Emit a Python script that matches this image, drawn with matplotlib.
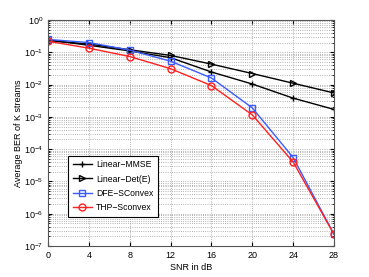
import numpy as np
import matplotlib.pyplot as plt
from matplotlib.ticker import LogLocator, NullFormatter

plt.rcParams['font.family'] = ['Liberation Sans', 'DejaVu Sans']
plt.rcParams['mathtext.fontset'] = 'custom'
plt.rcParams['mathtext.rm'] = 'Liberation Sans'

# Donnees
snr = [0, 4, 8, 12, 16, 20, 24, 28]
linear_mmse = [0.24, 0.165, 0.11, 0.068, 0.0245, 0.0104, 0.0038, 0.0017]
linear_det = [0.23, 0.18, 0.12, 0.08, 0.043, 0.022, 0.011, 0.0055]
dfe_sconvex = [0.25, 0.2, 0.117, 0.053, 0.016, 0.0019, 5.5e-5, 2.3e-7]
thp_sconvex = [0.22, 0.134, 0.074, 0.031, 0.0093, 0.00115, 4e-5, 2.3e-7]

fig = plt.figure(figsize=(3.69, 2.77), dpi=100)
ax = fig.add_axes([48/369, 31/277, 286/369, 226/277])

ax.semilogy(snr, linear_mmse, 'k-+', lw=1, ms=5, label='Linear\u2212MMSE')
ax.semilogy(snr, linear_det, 'k->', lw=1, ms=5, mfc='none', label='Linear\u2212Det(E)')
ax.semilogy(snr, dfe_sconvex, '-s', color='#3a5cff', lw=1, ms=4, mfc='none', label='DFE\u2212SConvex')
ax.semilogy(snr, thp_sconvex, '-o', color='#ff2020', lw=1, ms=5, mfc='none', label='THP\u2212Sconvex')

ax.set_xlim(0, 28)
ax.set_ylim(1e-7, 1)
ax.set_xticks(snr)
ax.yaxis.set_major_locator(LogLocator(base=10, numticks=10))
ax.yaxis.set_minor_locator(LogLocator(base=10, subs=np.arange(2, 10), numticks=10))
ax.yaxis.set_minor_formatter(NullFormatter())
ax.grid(True, which='major', ls=':', color='#999999', lw=0.6)
ax.grid(True, which='minor', axis='y', ls=':', color='#999999', lw=0.6)
ax.tick_params(which='both', direction='in', top=True, right=True, labelsize=6.5, length=3)
ax.tick_params(which='minor', length=1.5)
for s in ax.spines.values():
    s.set_color('#555555')
    s.set_linewidth(0.8)

ax.set_xlabel('SNR in dB', fontsize=6.5, labelpad=2)
ax.set_ylabel('Average BER of K streams', fontsize=6.5, labelpad=1)

leg = ax.legend(loc='upper left', bbox_to_anchor=(0.07, 0.40), fontsize=6.2,
                fancybox=False, edgecolor='black', framealpha=1,
                handlelength=2.2, handletextpad=0.5, borderpad=0.55,
                labelspacing=0.6, borderaxespad=0)
leg.get_frame().set_linewidth(0.8)

fig.savefig('out.png', dpi=100)
